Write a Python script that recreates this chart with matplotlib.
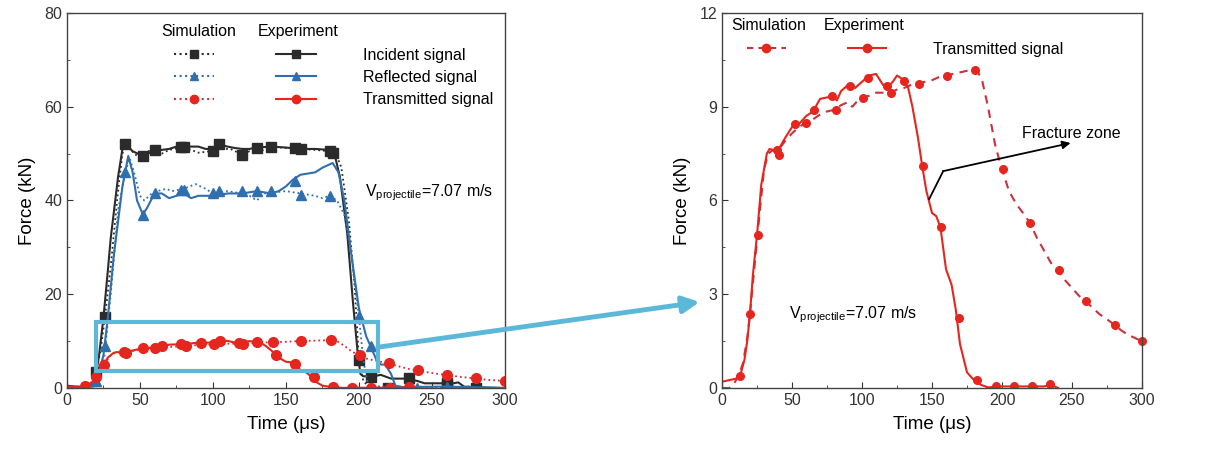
import matplotlib
matplotlib.use("Agg")
import matplotlib.pyplot as plt
from matplotlib.lines import Line2D
from matplotlib.patches import Rectangle, ConnectionPatch
from matplotlib.ticker import MultipleLocator

plt.rcParams["font.family"] = ["Liberation Sans", "DejaVu Sans"]

# ---- data (time in us, force in kN) ----
inc_exp_t = [0, 5, 10, 15, 18, 20, 22, 25, 28, 30, 35, 38, 40, 42, 45, 50, 55, 60, 65, 70, 75, 80, 85,
             90, 95, 100, 104, 110, 115, 120, 125, 130, 140, 150, 160, 170, 180, 183, 187, 192, 196, 199,
             201, 203, 210, 215, 222, 233, 240, 245, 265, 268, 272, 285, 300]
inc_exp_f = [0.5, 0.3, 0.2, 0.3, 0.8, 3, 7, 15, 25, 32, 45, 51, 52.5, 51.5, 50.5, 49.8, 50, 50.5, 50.8,
             51, 51.5, 51.5, 51.5, 51.5, 51, 51, 52, 51.5, 51.2, 51, 51, 51.3, 51.5, 51.3, 51, 51, 50.8,
             50.3, 45, 33, 18, 8, 3, 2.5, 2.5, 2.8, 2.0, 2.0, 1.5, 1.0, 1.0, 1.2, 0.3, 0.1, 0]
inc_exp_mt = [26, 52, 78, 104, 130, 156, 182, 208, 234, 260]
inc_exp_mf = [15.1, 49.4, 51.4, 52.0, 51.2, 51.3, 50.1, 2.3, 2.1, 1.0]

inc_sim_t = [0, 5, 10, 15, 18, 20, 23, 26, 30, 35, 38, 40, 43, 48, 55, 60, 65, 70, 80, 90, 98, 105, 112,
             120, 125, 130, 140, 150, 160, 170, 180, 183, 188, 193, 197, 200, 203, 206, 220, 300]
inc_sim_f = [0.5, 0.3, 0.2, 0.4, 1.5, 3.5, 8, 15, 26, 42, 50, 52, 51, 49.5, 50.5, 50.7, 50, 50.8, 51.4,
             50.2, 50.5, 51, 51, 49.8, 50.5, 50.2, 51.5, 51.2, 51, 50.8, 50.5, 51, 47, 36, 22, 6, 1.5,
             0.5, 0.1, 0]
inc_sim_mt = [20, 40, 60, 80, 100, 120, 140, 160, 180, 200, 220, 260, 280]
inc_sim_mf = [3.5, 52, 50.7, 51.4, 50.5, 49.8, 51.5, 51, 50.5, 6, 0.1, 0.7, 0.1]

ref_exp_t = [0, 10, 18, 20, 25, 28, 32, 38, 42, 45, 48, 52, 55, 60, 65, 70, 75, 80, 85, 90, 100, 110,
             120, 130, 140, 145, 150, 155, 160, 170, 175, 182, 186, 190, 195, 200, 205, 208, 212, 215,
             218, 222, 225, 230, 260, 300]
ref_exp_f = [0.3, 0.2, 0.3, 1, 7, 15, 28, 43, 49.5, 46, 40, 37, 38.5, 41.5, 41.5, 40.5, 41, 41.5, 40.5,
             41, 41, 41.5, 41.5, 42, 41.5, 42, 43, 44.5, 45.5, 46, 47, 48, 46, 40, 28, 17, 11, 8.9, 6,
             5, 5, 3, 0.5, 0.2, 0.3, 0]
ref_exp_mt = [26, 52, 78, 104, 130, 156, 208, 234]
ref_exp_mf = [9, 37, 42.2, 42, 42, 44.2, 8.9, 0]

ref_sim_t = [0, 15, 20, 25, 30, 35, 40, 43, 46, 50, 53, 58, 62, 68, 72, 80, 88, 95, 100, 110, 120, 125,
             130, 135, 150, 160, 170, 175, 180, 185, 190, 195, 200, 203, 206, 210, 300]
ref_sim_f = [0.3, 0.2, 1.5, 5, 20, 38, 46, 49, 46, 41, 40, 41.5, 42, 42.5, 42, 42.5, 43.5, 42.5, 41.5,
             42, 41.5, 41, 40, 41.5, 42, 41.5, 41, 40.5, 41, 40, 37, 28, 15.3, 6, 1, 0.3, 0]
ref_sim_mt = [20, 40, 60, 80, 100, 120, 140, 160, 180, 200, 240, 260]
ref_sim_mf = [1.5, 46.1, 41.7, 42.2, 41.7, 42, 42, 41.1, 40.9, 15.3, 0, 0.3]

tr_exp_t = [0, 5, 10, 13, 16, 18, 20, 22, 25, 28, 32, 34, 38, 40, 45, 50, 55, 60, 65, 70, 75, 80, 82,
            85, 90, 95, 100, 105, 110, 115, 118, 122, 125, 130, 133, 136, 140, 143, 146, 150, 153, 156,
            160, 164, 167, 170, 175, 180, 185, 190, 200, 210, 220, 230, 235, 240]
tr_exp_f = [0.2, 0.25, 0.3, 0.4, 0.9, 1.5, 2.4, 3.6, 4.9, 6.5, 7.5, 7.65, 7.6, 7.6, 8.0, 8.35, 8.45, 8.7,
            8.85, 9.25, 9.3, 9.3, 9.2, 9.5, 9.7, 9.6, 9.8, 10.0, 10.05, 9.7, 9.6, 9.8, 10.0, 9.85, 9.6,
            9.0, 8.0, 7.1, 6.3, 5.6, 5.5, 5.15, 3.8, 3.3, 2.5, 1.4, 0.5, 0.25, 0.1, 0.02, 0.05, 0.05,
            0.05, 0.05, 0.1, 0.0]
tr_exp_mt = [12.6, 25.4, 39.2, 51.8, 65.4, 78.4, 91.5, 104.6, 117.7, 130.3, 143.3, 156.4, 169.5, 182.3,
             195.6, 208.5, 221.3, 234.1]
tr_exp_mf = [0.37, 4.89, 7.63, 8.45, 8.91, 9.33, 9.67, 9.92, 9.67, 9.83, 7.09, 5.14, 2.24, 0.27, 0.05,
             0.07, 0.05, 0.13]

tr_sim_t = [0, 5, 8, 12, 15, 18, 20, 23, 26, 30, 33, 36, 40, 45, 50, 55, 60, 65, 70, 75, 80, 85, 90, 93,
            97, 100, 105, 110, 115, 120, 125, 130, 135, 140, 145, 150, 155, 160, 165, 170, 175, 180, 183,
            186, 190, 195, 198, 200, 205, 210, 215, 220, 225, 230, 235, 240, 245, 250, 255, 260, 265,
            270, 275, 280, 285, 290, 295, 300]
tr_sim_f = [0, 0, 0.1, 0.4, 0.8, 1.6, 2.4, 3.8, 5.2, 7.0, 7.5, 7.6, 7.6, 7.9, 8.15, 8.35, 8.5, 8.6,
            8.75, 8.85, 8.9, 9.05, 9.15, 9.0, 9.2, 9.3, 9.35, 9.45, 9.45, 9.45, 9.55, 9.6, 9.7, 9.75,
            9.8, 9.85, 9.95, 10.0, 10.05, 10.1, 10.15, 10.17, 10.1, 9.8, 9.0, 7.8, 7.3, 7.0, 6.3, 5.9,
            5.6, 5.28, 4.8, 4.4, 4.0, 3.77, 3.45, 3.2, 2.95, 2.77, 2.55, 2.35, 2.2, 2.03, 1.85, 1.7,
            1.6, 1.49]
tr_sim_mt = [20.2, 40.4, 60.1, 81.3, 101, 120.7, 141, 160.4, 180.7, 200.4, 220.3, 240.5, 260.3, 280.5, 300]
tr_sim_mf = [2.37, 7.47, 8.48, 8.91, 9.28, 9.44, 9.73, 10.0, 10.17, 7.02, 5.28, 3.77, 2.77, 2.03, 1.49]

BLACK = "#2b2b2b"
BLUE = "#2f6fae"
RED = "#e5261f"
RED_SIM = "#c8323f"
CYAN = "#5bb8d8"
FS = 11.5

fig = plt.figure(figsize=(12.24, 4.5), dpi=100)
ax1 = fig.add_axes([0.0547, 0.1378, 0.3578, 0.8333])
ax2 = fig.add_axes([0.5899, 0.1378, 0.3431, 0.8333])


def style(ax, ymax, ystep):
    ax.set_xlim(0, 300)
    ax.set_ylim(0, ymax)
    ax.xaxis.set_major_locator(MultipleLocator(50))
    ax.xaxis.set_minor_locator(MultipleLocator(25))
    ax.yaxis.set_major_locator(MultipleLocator(ystep))
    ax.yaxis.set_minor_locator(MultipleLocator(ystep / 2))
    ax.tick_params(which="both", direction="in", labelsize=FS, colors="#333333")
    ax.tick_params(which="major", length=4)
    ax.tick_params(which="minor", length=2.5)
    for s in ax.spines.values():
        s.set_color("#444444")
        s.set_linewidth(1.0)
    ax.set_xlabel("Time (μs)", fontsize=13.5, labelpad=6)
    ax.set_ylabel("Force (kN)", fontsize=13.5, labelpad=6)


# ---- left panel ----
ax1.plot(inc_sim_t, inc_sim_f, ":", color=BLACK, lw=1.3)
ax1.plot(inc_sim_mt, inc_sim_mf, "s", color=BLACK, ms=7, ls="none")
ax1.plot(inc_exp_t, inc_exp_f, "-", color=BLACK, lw=1.5)
ax1.plot(inc_exp_mt, inc_exp_mf, "s", color=BLACK, ms=7, ls="none")

ax1.plot(ref_sim_t, ref_sim_f, ":", color=BLUE, lw=1.3)
ax1.plot(ref_sim_mt, ref_sim_mf, "^", color=BLUE, ms=7, ls="none")
ax1.plot(ref_exp_t, ref_exp_f, "-", color=BLUE, lw=1.5)
ax1.plot(ref_exp_mt, ref_exp_mf, "^", color=BLUE, ms=7, ls="none")

ax1.plot(tr_sim_t, tr_sim_f, ":", color=RED_SIM, lw=1.3)
ax1.plot(tr_sim_mt, tr_sim_mf, "o", color=RED, ms=7, ls="none")
ax1.plot(tr_exp_t, tr_exp_f, "-", color=RED, lw=1.5)
ax1.plot(tr_exp_mt, tr_exp_mf, "o", color=RED, ms=7, ls="none")

style(ax1, 80, 20)
ax1.text(204, 41.6, r"$\mathregular{V_{projectile}}$=7.07 m/s", fontsize=FS, va="center")

handles1 = [Line2D([], [], ls=":", color=BLACK, marker="s", ms=6),
            Line2D([], [], ls=":", color=BLUE, marker="^", ms=6),
            Line2D([], [], ls=":", color=RED_SIM, marker="o", mfc=RED, mec=RED, ms=6),
            Line2D([], [], ls="-", color=BLACK, marker="s", ms=6),
            Line2D([], [], ls="-", color=BLUE, marker="^", ms=6),
            Line2D([], [], ls="-", color=RED, marker="o", ms=6)]
labels1 = ["", "", "", "Incident signal", "Reflected signal", "Transmitted signal"]
ax1.legend(handles1, labels1, ncol=2, loc="upper left", bbox_to_anchor=(0.245, 0.907), frameon=False,
           borderpad=0, borderaxespad=0, handlelength=2.5, handletextpad=2.9, columnspacing=1.0,
           labelspacing=0.45, fontsize=FS, numpoints=1)
ax1.text(0.301, 0.952, "Simulation", transform=ax1.transAxes, ha="center", va="center", fontsize=FS)
ax1.text(0.527, 0.952, "Experiment", transform=ax1.transAxes, ha="center", va="center", fontsize=FS)

ax1.add_patch(Rectangle((20, 3.6), 193, 10.5, fill=False, ec=CYAN, lw=3, zorder=5))

# ---- right panel ----
ax2.plot(tr_sim_t, tr_sim_f, "--", color=RED_SIM, lw=1.5, dashes=(4, 3))
ax2.plot(tr_sim_mt, tr_sim_mf, "o", color=RED, ms=5.5, ls="none", clip_on=False)
ax2.plot(tr_exp_t, tr_exp_f, "-", color=RED, lw=1.5)
ax2.plot(tr_exp_mt, tr_exp_mf, "o", color=RED, ms=5.5, ls="none")
style(ax2, 12, 3)

ax2.text(47.9, 2.34, r"$\mathregular{V_{projectile}}$=7.07 m/s", fontsize=FS, va="center")
ax2.plot([148, 158], [6.05, 6.94], color="black", lw=1.3)
ax2.annotate("", xy=(249, 7.84), xytext=(158, 6.94),
             arrowprops=dict(arrowstyle="-|>", color="black", lw=1.3, mutation_scale=12, shrinkA=0, shrinkB=0))
ax2.text(214, 8.16, "Fracture zone", fontsize=FS, va="center")

handles2 = [Line2D([], [], ls="--", dashes=(3, 2.5), color=RED_SIM, marker="o", mfc=RED, mec=RED, ms=6),
            Line2D([], [], ls="-", color=RED, marker="o", ms=6)]
ax2.legend(handles2, ["", "Transmitted signal"], ncol=2, loc="upper left", bbox_to_anchor=(0.06, 0.923),
           frameon=False, borderpad=0, borderaxespad=0, handlelength=2.4, handletextpad=2.9,
           columnspacing=1.0, fontsize=FS, numpoints=1)
ax2.text(0.112, 0.968, "Simulation", transform=ax2.transAxes, ha="center", va="center", fontsize=FS)
ax2.text(0.338, 0.968, "Experiment", transform=ax2.transAxes, ha="center", va="center", fontsize=FS)

# ---- zoom arrow between panels ----
con = ConnectionPatch(xyA=(213, 8.7), coordsA=ax1.transData, xyB=(-16, 2.75), coordsB=ax2.transData,
                      arrowstyle="-|>", mutation_scale=25, lw=3.5, color=CYAN, shrinkA=0, shrinkB=0)
fig.add_artist(con)

fig.savefig("out.png", dpi=100)
